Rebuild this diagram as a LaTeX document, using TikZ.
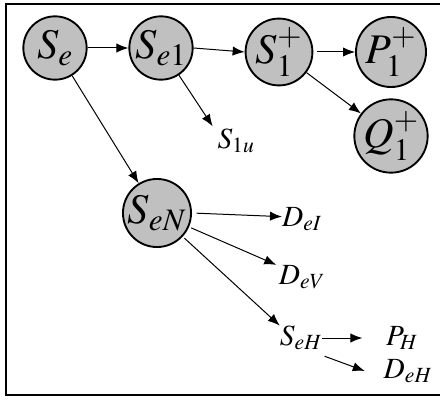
\documentclass[tikz,border=0pt]{standalone}
\usepackage{amsmath}
\usepackage{mathptmx}
\usepackage{tikz}
\usetikzlibrary{arrows.meta,positioning}
\definecolor{nodegray}{RGB}{192,192,192}

\begin{document}
\begin{tikzpicture}[x=0.03cm,y=-0.03cm]
  \tikzstyle{statenode}=[circle,draw=black,line width=1.6pt,fill=nodegray,minimum size=1.9cm,inner sep=0pt,font=\fontsize{36}{40}\selectfont]
  \tikzstyle{endlabel}=[inner sep=0pt,font=\fontsize{25}{28}\selectfont]
  \tikzstyle{link}=[line width=0.85pt,-{Latex[length=3.6mm,width=2.8mm]}]

  \useasboundingbox (0,0) rectangle (440,401);
  \draw[line width=1.3pt] (6,4) rectangle (445,395);

  \node[statenode] (se) at (55,48) {$S_e$};
  \node[statenode] (se1) at (161,48) {$S_{e1}$};
  \node[statenode] (s1p) at (279,52) {$S_1^+$};
  \node[statenode] (p1p) at (391,52) {$P_1^+$};
  \node[statenode] (q1p) at (391,136) {$Q_1^+$};
  \node[statenode] (sen) at (157,213) {$S_{eN}$};

  \node[endlabel] (s1u) at (236,141) {$S_{1u}$};
  \node[endlabel] (dei) at (302,219) {$D_{eI}$};
  \node[endlabel] (dev) at (302,277) {$D_{eV}$};
  \node[endlabel] (seh) at (301,338) {$S_{eH}$};
  \node[endlabel] (ph) at (402,338) {$P_H$};
  \node[endlabel] (deh) at (408,371) {$D_{eH}$};

  \draw[link] (se) -- (se1);
  \draw[link] (se1.east) -- (s1p.west);
  \draw[link,shorten <=3pt] (s1p) -- (p1p);
  \draw[link] (s1p) -- (q1p);
  \draw[link] (se1) -- ([shift={(-4pt,2pt)}]s1u.north west);
  \draw[link] (se) -- (sen);
  \draw[link,shorten <=4pt] (sen.east) -- ([yshift=2pt]dei.west);
  \draw[link,shorten <=2pt] (sen) -- ([xshift=-2pt]dev.north west);
  \draw[link,shorten <=2pt] (sen) -- (seh.north west);
  \draw[link] (seh) -- ([xshift=-20pt]ph.west);
  \draw[link] ([shift={(2pt,-5pt)}]seh.south east) -- ([xshift=-16pt]deh.west);
\end{tikzpicture}
\end{document}
